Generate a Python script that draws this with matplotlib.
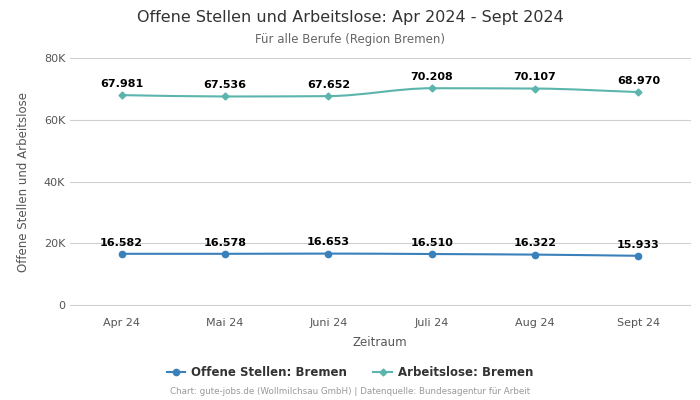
import numpy as np
import matplotlib

matplotlib.use("Agg")
import matplotlib.pyplot as plt
from matplotlib.path import Path
from matplotlib.patches import PathPatch
from matplotlib.ticker import FuncFormatter

months = ["Apr 24", "Mai 24", "Juni 24", "Juli 24", "Aug 24", "Sept 24"]
offene_stellen = [16582, 16578, 16653, 16510, 16322, 15933]
arbeitslose = [67981, 67536, 67652, 70208, 70107, 68970]

BLUE = "#3a80ba"
TEAL = "#5bb5ad"


def de_num(v):
    return f"{v:,}".replace(",", ".")


def smooth_path(x, y):
    # monotone cubic hermite as bezier segments
    x = np.asarray(x, float)
    y = np.asarray(y, float)
    h = np.diff(x)
    d = np.diff(y) / h
    m = np.zeros_like(y)
    m[0], m[-1] = d[0], d[-1]
    for i in range(1, len(y) - 1):
        if d[i - 1] * d[i] <= 0:
            m[i] = 0
        else:
            m[i] = 2 / (1 / d[i - 1] + 1 / d[i])
    verts = [(x[0], y[0])]
    codes = [Path.MOVETO]
    for i in range(len(x) - 1):
        verts += [
            (x[i] + h[i] / 3, y[i] + m[i] * h[i] / 3),
            (x[i + 1] - h[i] / 3, y[i + 1] - m[i + 1] * h[i] / 3),
            (x[i + 1], y[i + 1]),
        ]
        codes += [Path.CURVE4] * 3
    return Path(verts, codes)


fig = plt.figure(figsize=(7, 4), dpi=100)
ax = fig.add_axes([0.1, 0.2375, 0.8857, 0.6175])

xs = np.arange(len(months))
for vals, color, marker, ms, label in [
    (offene_stellen, BLUE, "o", 4.5, "Offene Stellen: Bremen"),
    (arbeitslose, TEAL, "D", 3.5, "Arbeitslose: Bremen"),
]:
    ax.add_patch(PathPatch(smooth_path(xs, vals), fill=False, edgecolor=color, lw=1.5, zorder=3))
    ax.plot(xs, vals, ls="none", marker=marker, ms=ms, color=color, zorder=4)
    ax.plot([], [], color=color, marker=marker, ms=ms, lw=1.5, label=label)
    for x, v in zip(xs, vals):
        ax.annotate(de_num(v), (x, v), xytext=(0, 4.5), textcoords="offset points",
                    ha="center", va="bottom", fontsize=8, fontweight="bold", color="black")

ax.set_xlim(-0.5, len(months) - 0.5)
ax.set_ylim(0, 80000)
ax.set_yticks([0, 20000, 40000, 60000, 80000])
ax.yaxis.set_major_formatter(FuncFormatter(lambda v, p: "0" if v == 0 else f"{int(v / 1000)}K"))
ax.set_xticks(xs)
ax.set_xticklabels(months)
ax.tick_params(axis="both", length=0, labelsize=8, colors="#555555")
ax.tick_params(axis="x", pad=9)
ax.grid(axis="y", color="#d0d0d0", lw=0.8)
for gl in ax.get_ygridlines():
    gl.set_clip_on(False)
ax.set_axisbelow(True)
for s in ax.spines.values():
    s.set_visible(False)

ax.set_xlabel("Zeitraum", fontsize=8.5, color="#555555", labelpad=6)
ax.set_ylabel("Offene Stellen und Arbeitslose", fontsize=8.5, color="#555555", labelpad=10)

fig.text(0.5, 0.957, "Offene Stellen und Arbeitslose: Apr 2024 - Sept 2024",
         ha="center", va="center", fontsize=11.5, color="#333333")
fig.text(0.5, 0.902, "Für alle Berufe (Region Bremen)", ha="center", va="center",
         fontsize=8.5, color="#666666")

leg = fig.legend(loc="center", bbox_to_anchor=(0.5, 0.0675), ncol=2, frameon=False,
                 fontsize=8.5, handlelength=1.6, handletextpad=0.5, columnspacing=2.2)
for t in leg.get_texts():
    t.set_fontweight("bold")
    t.set_color("#333333")

fig.text(0.5, 0.02, "Chart: gute-jobs.de (Wollmilchsau GmbH) | Datenquelle: Bundesagentur für Arbeit",
         ha="center", va="center", fontsize=6.3, color="#999999")

fig.savefig("out.png", dpi=100)
